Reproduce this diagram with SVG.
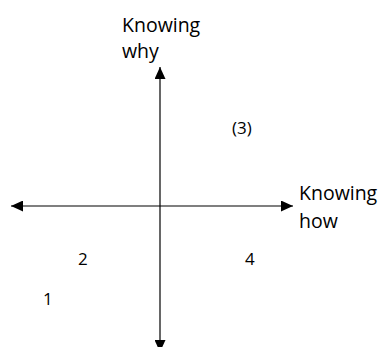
<svg xmlns="http://www.w3.org/2000/svg" width="384" height="347" viewBox="0 0 384 347">
  <style>
    .lbl { font-family: "Open Sans", "Liberation Sans", sans-serif; font-size: 19.5px; fill: #000; }
    .num { font-family: "Open Sans", "Liberation Sans", sans-serif; font-size: 17px; fill: #000; }
    .axis { stroke: #000; stroke-width: 1.2; fill: none; }
  </style>
  <defs>
    <marker id="arrow" viewBox="0 0 12 11" refX="12" refY="5.5" markerWidth="12" markerHeight="11" markerUnits="userSpaceOnUse" orient="auto-start-reverse">
      <path d="M0,0 L12,5.5 L0,11 Z" fill="#000"/>
    </marker>
  </defs>
  <rect width="384" height="347" fill="#fff"/>
  <g id="connectors">
    <line class="axis" x1="160" y1="67" x2="160" y2="352" marker-start="url(#arrow)" marker-end="url(#arrow)"/>
    <line class="axis" x1="11" y1="206" x2="293" y2="206" marker-start="url(#arrow)" marker-end="url(#arrow)"/>
  </g>
  <g id="knowing-why">
    <text class="lbl" x="122" y="32">Knowing</text>
    <text class="lbl" x="122" y="58">why</text>
  </g>
  <g id="knowing-how">
    <text class="lbl" x="299" y="200">Knowing</text>
    <text class="lbl" x="299" y="228">how</text>
  </g>
  <g id="q3"><text class="num" x="232" y="134">(3)</text></g>
  <g id="q2"><text class="num" x="78" y="265">2</text></g>
  <g id="q4"><text class="num" x="245" y="265">4</text></g>
  <g id="q1"><text class="num" x="43" y="305">1</text></g>
</svg>
